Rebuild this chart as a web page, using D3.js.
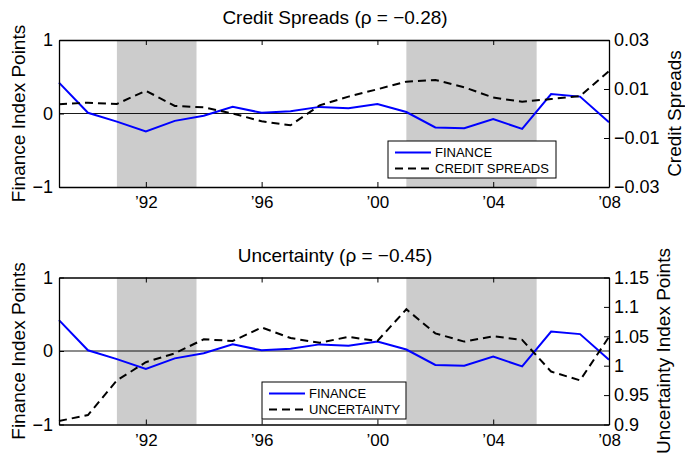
<!DOCTYPE html>
<html>
<head>
<meta charset="utf-8">
<script src="https://cdn.jsdelivr.net/npm/d3@7"></script>
<style>
  body { margin: 0; background: #fff; }
  svg { display: block; font-family: "Liberation Sans", Arial, sans-serif; }
</style>
</head>
<body>
<div id="chart"></div>
<script>
// annual observations, 1989-2008
const years = [1989, 1990, 1991, 1992, 1993, 1994, 1995, 1996, 1997, 1998,
               1999, 2000, 2001, 2002, 2003, 2004, 2005, 2006, 2007, 2008];
const finance = [0.42, 0.01, -0.11, -0.245, -0.10, -0.03, 0.09, 0.01, 0.03, 0.09,
                 0.07, 0.13, 0.02, -0.19, -0.20, -0.075, -0.21, 0.265, 0.23, -0.12];
const creditSpreads = [0.0038, 0.0044, 0.0039, 0.0093, 0.0031, 0.0025, 0.0000, -0.0032, -0.0048, 0.0033,
                       0.0069, 0.0099, 0.0130, 0.0137, 0.0107, 0.0065, 0.0048, 0.0059, 0.0071, 0.0173];
const uncertainty = [0.906, 0.916, 0.975, 1.006, 1.021, 1.045, 1.042, 1.065, 1.047, 1.039,
                     1.049, 1.042, 1.096, 1.055, 1.041, 1.050, 1.044, 0.990, 0.975, 1.049];
// recession bands (shaded)
const recessions = [[1991.0, 1993.75], [2001.0, 2005.5]];
const xTicks = [1992, 1996, 2000, 2004, 2008];
const financeTicks = [-1, 0, 1];
const spreadTicks = [-0.03, -0.01, 0.01, 0.03];
const uncertaintyTicks = [0.9, 0.95, 1, 1.05, 1.1, 1.15];

const width = 685, height = 453;
const left = 59, right = 609;

const svg = d3.select("#chart")
  .append("svg")
    .attr("width", width)
    .attr("height", height)
    .attr("viewBox", `0 0 ${width} ${height}`);

const x = d3.scaleLinear().domain([1989, 2008]).range([left, right]);

const drawPanel = (cfg) => {
  const yFin = d3.scaleLinear().domain([-1, 1]).range([cfg.bottom, cfg.top]);
  const yR = d3.scaleLinear().domain(cfg.rightDomain).range([cfg.bottom, cfg.top]);
  const g = svg.append("g");

  // shaded recessions
  g.selectAll(".rec")
    .data(recessions)
    .join("rect")
      .attr("x", d => x(d[0]))
      .attr("width", d => x(d[1]) - x(d[0]))
      .attr("y", cfg.top)
      .attr("height", cfg.bottom - cfg.top)
      .attr("fill", "#cccccc");

  // zero line
  g.append("line")
    .attr("x1", left).attr("x2", right)
    .attr("y1", yFin(0)).attr("y2", yFin(0))
    .attr("stroke", "#000").attr("stroke-width", 0.9);

  const finLine = d3.line().x((d, i) => x(years[i])).y(d => yFin(d));
  g.append("path")
    .attr("d", finLine(finance))
    .attr("fill", "none")
    .attr("stroke", "#0000ff")
    .attr("stroke-width", 2);

  const rLine = d3.line().x((d, i) => x(years[i])).y(d => yR(d));
  g.append("path")
    .attr("d", rLine(cfg.series))
    .attr("fill", "none")
    .attr("stroke", "#000")
    .attr("stroke-width", 2)
    .attr("stroke-dasharray", "8,5");

  // axes (box with inward ticks)
  const styleAxis = (sel, size) => {
    sel.attr("font-family", null);
    sel.select(".domain").attr("stroke", "#000").attr("stroke-width", 1.3);
    sel.selectAll(".tick line").attr("stroke", "#000").attr("stroke-width", 1);
    sel.selectAll("text").attr("font-size", size).attr("fill", "#000");
  };

  g.append("g")
    .attr("transform", `translate(0,${cfg.bottom})`)
    .call(d3.axisBottom(x).tickValues(xTicks)
      .tickFormat(d => "\u2019" + String(d).slice(2))
      .tickSizeInner(-5).tickSizeOuter(0).tickPadding(9))
    .call(sel => styleAxis(sel, 17));

  g.append("g")
    .attr("transform", `translate(0,${cfg.top})`)
    .call(d3.axisTop(x).tickValues(xTicks).tickFormat("")
      .tickSizeInner(-5).tickSizeOuter(0))
    .call(sel => styleAxis(sel, 17));

  g.append("g")
    .attr("transform", `translate(${left},0)`)
    .call(d3.axisLeft(yFin).tickValues(financeTicks).tickFormat(d3.format("~g"))
      .tickSizeInner(-5).tickSizeOuter(0).tickPadding(6))
    .call(sel => styleAxis(sel, 18));

  g.append("g")
    .attr("transform", `translate(${right},0)`)
    .call(d3.axisRight(yR).tickValues(cfg.rightTicks).tickFormat(cfg.rightFormat)
      .tickSizeInner(-5).tickSizeOuter(0).tickPadding(5))
    .call(sel => styleAxis(sel, 18));

  // title
  g.append("text")
    .attr("x", 335).attr("y", cfg.titleY)
    .attr("text-anchor", "middle")
    .attr("font-size", 19)
    .text(cfg.title);

  // axis labels
  g.append("text")
    .attr("transform", `translate(25,${(cfg.top + cfg.bottom) / 2}) rotate(-90)`)
    .attr("text-anchor", "middle")
    .attr("font-size", 19)
    .text("Finance Index Points");

  g.append("text")
    .attr("transform", `translate(${cfg.rightLabelX},${(cfg.top + cfg.bottom) / 2}) rotate(-90)`)
    .attr("text-anchor", "middle")
    .attr("font-size", 19)
    .text(cfg.rightLabel);

  // legend
  const lg = g.append("g").attr("transform", `translate(${cfg.legend[0]},${cfg.legend[1]})`);
  lg.append("rect")
    .attr("width", cfg.legend[2]).attr("height", 37)
    .attr("fill", "#fff").attr("stroke", "#000").attr("stroke-width", 1);
  const items = [
    { label: "FINANCE", color: "#0000ff", dash: null },
    { label: cfg.seriesName, color: "#000", dash: "8,5" }
  ];
  items.forEach((it, i) => {
    const ly = 11.5 + i * 16;
    lg.append("line")
      .attr("x1", 7).attr("x2", 43)
      .attr("y1", ly).attr("y2", ly)
      .attr("stroke", it.color).attr("stroke-width", 2)
      .attr("stroke-dasharray", it.dash);
    lg.append("text")
      .attr("x", 47).attr("y", ly)
      .attr("dy", "0.36em")
      .attr("font-size", 13)
      .text(it.label);
  });
};

drawPanel({
  top: 40, bottom: 187, titleY: 24,
  title: "Credit Spreads (\u03c1 = \u22120.28)",
  series: creditSpreads, seriesName: "CREDIT SPREADS",
  rightDomain: [-0.03, 0.03], rightTicks: spreadTicks,
  rightFormat: d3.format(".2f"),
  rightLabel: "Credit Spreads", rightLabelX: 681,
  legend: [388, 141, 168]
});

drawPanel({
  top: 277.5, bottom: 424.5, titleY: 262,
  title: "Uncertainty (\u03c1 = \u22120.45)",
  series: uncertainty, seriesName: "UNCERTAINTY",
  rightDomain: [0.9, 1.15], rightTicks: uncertaintyTicks,
  rightFormat: d3.format("~g"),
  rightLabel: "Uncertainty Index Points", rightLabelX: 670,
  legend: [262, 382, 144]
});
</script>
</body>
</html>
